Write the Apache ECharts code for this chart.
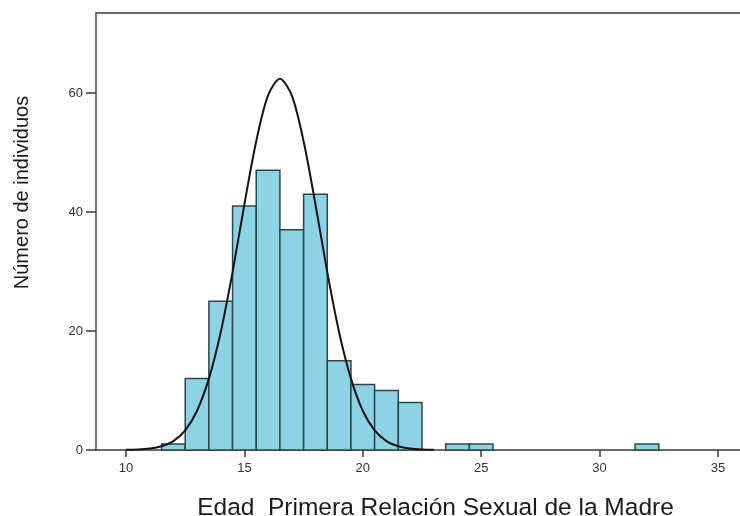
<!DOCTYPE html>
<html>
<head>
<meta charset="utf-8">
<script src="https://cdn.jsdelivr.net/npm/echarts@6/dist/echarts.min.js"></script>
<style>html,body{margin:0;padding:0;background:#fff;}#c{width:740px;height:516px;}</style>
</head>
<body>
<div id="c"></div>
<script>
// Histogram bins (center of 1-year bin) and counts
var binCenters = [12, 13, 14, 15, 16, 17, 18, 19, 20, 21, 22, 24, 25, 32];
var binCounts  = [1, 12, 25, 41, 47, 37, 43, 15, 11, 10, 8, 1, 1, 1];
// Fitted normal curve
var curveX = [10, 10.5, 11, 11.5, 12, 12.5, 13, 13.5, 14, 14.5, 15, 15.5, 16, 16.5, 17, 17.5, 18, 18.5, 19, 19.5, 20, 20.5, 21, 21.5, 22, 22.5, 23];
var curveY = [0.03, 0.08, 0.24, 0.63, 1.5, 3.3, 6.6, 12, 19.8, 29.9, 41.3, 51.9, 59.6, 62.4, 59.6, 51.9, 41.3, 29.9, 19.8, 12, 6.6, 3.3, 1.5, 0.63, 0.24, 0.08, 0.03];
// Tick labels
var xTicks = [10, 15, 20, 25, 30, 35];
var yTicks = [0, 20, 40, 60];

var binWidth = 1;
var barData = binCenters.map(function (c, i) { return [c, binCounts[i]]; });
var lineData = curveX.map(function (x, i) { return [x, curveY[i]]; });

var chart = echarts.init(document.getElementById('c'), null, {renderer: 'canvas'});
var font = 'Liberation Sans, Arial, sans-serif';
chart.setOption({
  animation: false,
  backgroundColor: '#ffffff',
  grid: {left: 96, top: 13, right: 0, bottom: 66, containLabel: false, outerBoundsMode: 'none'},
  xAxis: [{
    type: 'value', min: 8.733, max: 35.93,
    name: 'Edad  Primera Relación Sexual de la Madre',
    nameLocation: 'middle', nameGap: 46,
    nameTextStyle: {fontFamily: font, fontSize: 24.5, color: '#1a1a1a', padding: [0, 0, 0, 35]},
    axisLine: {show: true, onZero: false, lineStyle: {color: '#3a3a3a', width: 1.5}},
    axisTick: {show: true, customValues: xTicks, length: 7, lineStyle: {color: '#3a3a3a', width: 1.5}},
    axisLabel: {customValues: xTicks, fontFamily: font, fontSize: 13, color: '#333', margin: 12},
    splitLine: {show: false}
  }, {
    type: 'value', position: 'top', min: 0, max: 1,
    axisLine: {show: true, onZero: false, lineStyle: {color: '#6a6a6a', width: 2}},
    axisTick: {show: false}, axisLabel: {show: false}, splitLine: {show: false}
  }],
  yAxis: {
    type: 'value', min: 0, max: 73.45,
    name: 'Número de individuos',
    nameLocation: 'middle', nameGap: 64,
    nameTextStyle: {fontFamily: font, fontSize: 20, color: '#1a1a1a', padding: [0, 0, 0, 78]},
    axisLine: {show: true, onZero: false, lineStyle: {color: '#4a4a4a', width: 1.5}},
    axisTick: {show: true, customValues: yTicks, length: 10, lineStyle: {color: '#3a3a3a', width: 1.5}},
    axisLabel: {customValues: yTicks, fontFamily: font, fontSize: 13, color: '#333', margin: 13},
    splitLine: {show: false}
  },
  series: [{
    type: 'custom',
    xAxisIndex: 0,
    data: barData,
    renderItem: function (params, api) {
      var c = api.value(0), v = api.value(1);
      var p0 = api.coord([c - binWidth / 2, v]);
      var p1 = api.coord([c + binWidth / 2, 0]);
      return {
        type: 'rect',
        shape: {x: p0[0], y: p0[1], width: p1[0] - p0[0], height: p1[1] - p0[1]},
        style: {fill: '#8ed3e5', stroke: '#2f4549', lineWidth: 1.5}
      };
    },
    z: 2
  }, {
    type: 'line',
    xAxisIndex: 0,
    data: lineData,
    smooth: 0.3,
    symbol: 'none',
    lineStyle: {color: '#141414', width: 2},
    z: 3
  }]
});
</script>
</body>
</html>
